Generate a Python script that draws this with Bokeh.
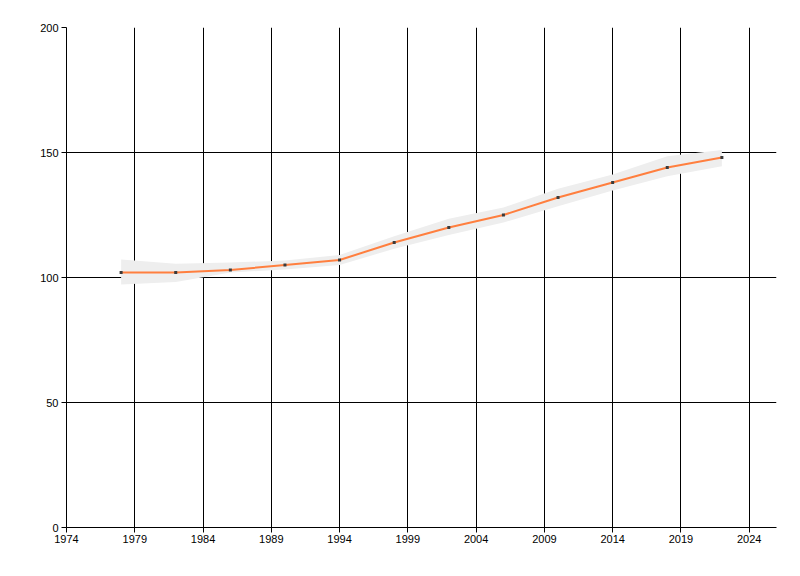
import numpy as np
from bokeh.plotting import figure
from bokeh.models import FixedTicker
from bokeh.embed import file_html
from bokeh.resources import INLINE


years = np.array([1978, 1982, 1986, 1990, 1994, 1998, 2002, 2006, 2010, 2014, 2018, 2022])
values = np.array([102, 102, 103, 105, 107, 114, 120, 125, 132, 138, 144, 148])
upper = np.array([107.2, 105.5, 106, 106.8, 109, 116.5, 123.5, 128, 135.5, 141.2, 148.5, 151])
lower = np.array([97.2, 98.2, 102, 103.2, 105, 111.5, 117, 122, 128.5, 134.8, 140.5, 144.5])

x_ticks = [1974, 1979, 1984, 1989, 1994, 1999, 2004, 2009, 2014, 2019, 2024]
y_ticks = [0, 50, 100, 150, 200]

FONT = "Liberation Sans"

p = figure(width=792, height=568, x_range=(1974, 2026), y_range=(0, 200),
           output_backend="svg", toolbar_location=None,
           min_border_left=66, min_border_right=16, min_border_top=27, min_border_bottom=41)
p.outline_line_color = None
p.background_fill_color = "white"
p.border_fill_color = "white"

# confidence band, line and markers
p.varea(x=years, y1=lower, y2=upper, fill_color="#eeeeee")
p.line(years, values, line_color="#ff7f3f", line_width=2)
p.scatter(years, values, marker="square", size=3, fill_color="#3a3a3a", line_color=None)

for ax in (p.xaxis, p.yaxis):
    ax.axis_line_color = "black"
    ax.major_tick_line_color = "black"
    ax.major_tick_out = 5
    ax.major_tick_in = 0
    ax.minor_tick_line_color = None
    ax.major_label_text_font = FONT
    ax.major_label_text_font_size = "11px"
    ax.major_label_text_color = "black"

p.xaxis.ticker = FixedTicker(ticks=x_ticks)
p.yaxis.ticker = FixedTicker(ticks=y_ticks)
p.xaxis.major_label_standoff = 2
p.yaxis.major_label_standoff = 3

p.xgrid.ticker = FixedTicker(ticks=x_ticks)
p.ygrid.ticker = FixedTicker(ticks=y_ticks)
p.grid.grid_line_color = "black"
p.grid.grid_line_alpha = 1.0
p.grid.grid_line_width = 1

open("out.html", "w").write(file_html(p, INLINE))
